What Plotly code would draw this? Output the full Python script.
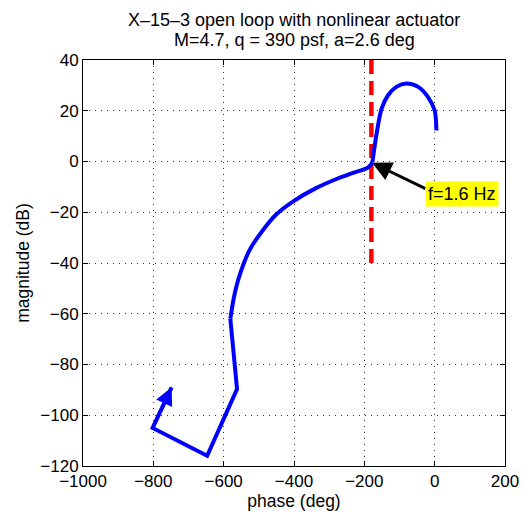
import plotly.graph_objects as go

# Nichols curve (phase in deg, magnitude in dB), split into pieces
arc_phase = [5, 0, -19, -47, -80, -109, -133, -151, -166, -177]
arc_mag = [12.2, 20.1, 25.4, 29.4, 30.7, 29.4, 26.0, 20.8, 10.2, -0.3]

bend_phase = [-177, -189, -232, -279, -336, -400, -450, -488, -526, -555, -570, -581]
bend_mag = [-0.3, -2.3, -4.5, -6.9, -10.4, -15.5, -20.8, -27.0, -34.8, -45.0, -53.0, -62.0]

tail_phase = [-581, -575, -565, -562, -647, -802, -748]
tail_mag = [-62.0, -72.0, -85.0, -89.7, -116.0, -105.0, -89.0]

crit_phase = [-180, -180]
crit_mag = [40, -40]

x_ticks = [-1000, -800, -600, -400, -200, 0, 200]
y_ticks = [40, 20, 0, -20, -40, -60, -80, -100, -120]

marker_phase = -178
marker_mag = -0.5
label_text = "f=1.6 Hz"
title_lines = ["X–15–3 open loop with nonlinear actuator", "M=4.7, q = 390 psf, a=2.6 deg"]

FONT = "Liberation Sans, Arial"
BLUE = "#0000ff"

fig = go.Figure()
fig.add_trace(go.Scatter(x=crit_phase, y=crit_mag, mode="lines",
                         line=dict(color="#ff0000", width=4.5, dash="14px,7px"),
                         showlegend=False, hoverinfo="skip"))
fig.add_trace(go.Scatter(x=arc_phase, y=arc_mag, mode="lines",
                         line=dict(color=BLUE, width=4, shape="spline", smoothing=0.8),
                         showlegend=False))
fig.add_trace(go.Scatter(x=bend_phase, y=bend_mag, mode="lines",
                         line=dict(color=BLUE, width=4, shape="spline", smoothing=1.0),
                         showlegend=False))
fig.add_trace(go.Scatter(x=tail_phase, y=tail_mag, mode="lines",
                         line=dict(color=BLUE, width=4),
                         showlegend=False))

# arrow head at curve end
fig.add_annotation(x=tail_phase[-1], y=tail_mag[-1], ax=tail_phase[-2], ay=tail_mag[-2],
                   xref="x", yref="y", axref="x", ayref="y",
                   text="", showarrow=True, arrowhead=2, arrowsize=1,
                   arrowwidth=3.5, arrowcolor=BLUE)

# pointer to crossover
fig.add_annotation(x=marker_phase, y=marker_mag, ax=-22, ay=-11,
                   xref="x", yref="y", axref="x", ayref="y",
                   text="", showarrow=True, arrowhead=2, arrowsize=1.3,
                   arrowwidth=3, arrowcolor="#000000")
fig.add_annotation(x=77, y=-13, xref="x", yref="y", text=label_text,
                   showarrow=False, bgcolor="#ffff00",
                   font=dict(family=FONT, size=18, color="black"),
                   borderpad=2)

# title as two centered lines
for txt, yp in zip(title_lines, [1.0985, 1.049]):
    fig.add_annotation(x=0.5, y=yp, xref="paper", yref="paper", text=txt,
                       showarrow=False, xanchor="center", yanchor="middle",
                       font=dict(family=FONT, size=18, color="black"))

axis_common = dict(
    showline=True, linecolor="black", linewidth=1, mirror="ticks",
    ticks="inside", ticklen=5, tickcolor="black",
    showgrid=True, gridcolor="#333333", gridwidth=1, griddash="1px,5px",
    zeroline=False, automargin=False,
    tickfont=dict(family=FONT, size=17, color="black"),
)

fig.update_xaxes(range=[-1000, 200], tickvals=x_ticks,
                 title=dict(text="phase (deg)", standoff=4,
                            font=dict(family=FONT, size=17.5, color="black")),
                 **axis_common)
fig.update_yaxes(range=[-120, 40], tickvals=y_ticks,
                 title=dict(text="magnitude (dB)", standoff=6,
                            font=dict(family=FONT, size=17.5, color="black")),
                 **axis_common)

fig.update_layout(
    width=525, height=516,
    margin=dict(l=83, r=20, t=60, b=50),
    paper_bgcolor="white", plot_bgcolor="white",
)

fig.write_html("out.html", config={"displayModeBar": False},
               post_script="document.body.style.margin='0';document.body.style.overflow='hidden';")
